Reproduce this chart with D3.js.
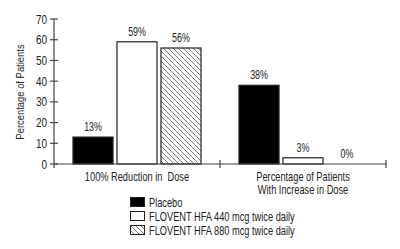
<!DOCTYPE html>
<html>
<head>
<meta charset="utf-8">
<script src="https://cdn.jsdelivr.net/npm/d3@7"></script>
<style>
  body { margin: 0; background: #fff; }
  svg text { font-family: "Liberation Sans", Arial, sans-serif; fill: #222; white-space: pre; }
</style>
</head>
<body>
<svg id="chart"></svg>
<script>
let width = 400, height = 249;

let groups = ["100% Reduction in  Dose", "Percentage of Patients\nWith Increase in Dose"];
let series = ["Placebo", "FLOVENT HFA 440 mcg twice daily", "FLOVENT HFA 880 mcg twice daily"];
let placebo = [13, 38];
let flovent440 = [59, 3];
let flovent880 = [56, 0];
let yTicks = [0, 10, 20, 30, 40, 50, 60, 70];

let values = [placebo, flovent440, flovent880];
let squeeze = 0.74; // the original uses a condensed face

let svg = d3.select("#chart")
  .attr("width", width)
  .attr("height", height);

// condensed text: translate to the anchor point, then squash horizontally
const label = (parent, x, y, txt, size, anchor, rot, sx) => parent.append("text")
  .attr("transform", "translate(" + x + "," + y + ")" + (rot ? " rotate(" + rot + ")" : "") + " scale(" + (sx || squeeze) + ",1)")
  .attr("text-anchor", anchor || "start")
  .attr("font-size", size)
  .text(txt);

// hatch pattern for the 880 bars
let defs = svg.append("defs");
let pat = defs.append("pattern")
  .attr("id", "hatch")
  .attr("patternUnits", "userSpaceOnUse")
  .attr("width", 5)
  .attr("height", 5);
pat.append("rect").attr("width", 5).attr("height", 5).attr("fill", "#fff");
pat.append("path")
  .attr("d", "M-1,-1 L6,6 M-1,4 L1,6 M4,-1 L6,1")
  .attr("stroke", "#555")
  .attr("stroke-width", 0.8);

let x0 = d3.scaleBand().domain(d3.range(groups.length)).range([54, 386]);
let x1 = d3.scaleBand().domain(d3.range(series.length)).range([19, 147]).paddingInner(0.09);
let y = d3.scaleLinear().domain([0, 70]).range([164, 19]);

let fills = ["#000", "#fff", "url(#hatch)"];

// y axis
let gy = svg.append("g");
gy.append("line")
  .attr("x1", 54).attr("x2", 54)
  .attr("y1", y(70)).attr("y2", y(0) + 4)
  .attr("stroke", "#444").attr("stroke-width", 1.2);
gy.selectAll(".tk").data(yTicks).enter().append("line")
  .attr("x1", 50).attr("x2", 58)
  .attr("y1", d => y(d)).attr("y2", d => y(d))
  .attr("stroke", "#444").attr("stroke-width", 1.2);
yTicks.forEach(d => label(gy, 47, y(d) + 4.5, d, 12.5, "end", 0, 0.8));
label(svg, 24, 92, "Percentage of Patients", 11.5, "middle", -90, 0.82);

// bars, with the value above each one (0% gets only the label)
let gBars = svg.append("g");
groups.forEach((g, gi) => {
  values.forEach((vals, si) => {
    let v = vals[gi];
    let bx = x0(gi) + x1(si);
    if (v > 0) {
      gBars.append("rect")
        .attr("x", bx)
        .attr("y", y(v))
        .attr("width", x1.bandwidth())
        .attr("height", y(0) - y(v))
        .attr("fill", fills[si])
        .attr("stroke", "#222")
        .attr("stroke-width", 1.2);
    }
    label(gBars, bx + x1.bandwidth() / 2, y(v) - 6, v + "%", 12, "middle");
  });
});

// x axis
let gx = svg.append("g");
gx.append("line")
  .attr("x1", 54).attr("x2", 386)
  .attr("y1", y(0)).attr("y2", y(0))
  .attr("stroke", "#444").attr("stroke-width", 1.2);
gx.selectAll(".tk").data([x0(1), 386]).enter().append("line")
  .attr("x1", d => d).attr("x2", d => d)
  .attr("y1", y(0) - 4).attr("y2", y(0) + 4)
  .attr("stroke", "#444").attr("stroke-width", 1.2);
groups.forEach((g, gi) => {
  g.split("\n").forEach((line, li) => {
    label(gx, x0(gi) + x0.bandwidth() / 2, 181 + li * 13, line, 12.5, "middle");
  });
});

// legend
let lg = svg.append("g");
series.forEach((s, i) => {
  let ly = 197 + i * 14;
  lg.append("rect")
    .attr("x", 130.5).attr("y", ly + 0.5)
    .attr("width", 14).attr("height", 9)
    .attr("fill", fills[i])
    .attr("stroke", "#222").attr("stroke-width", 1);
  label(lg, 149, ly + 9.5, s, 12.5);
});
</script>
</body>
</html>
